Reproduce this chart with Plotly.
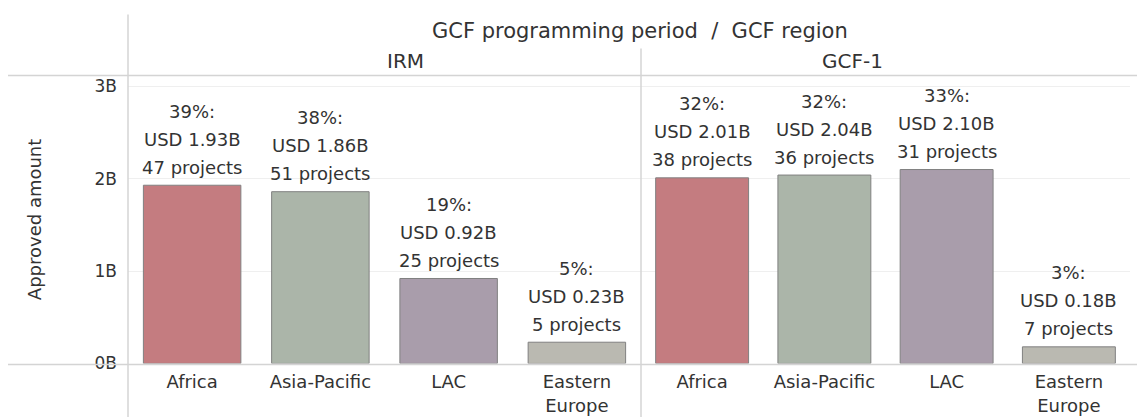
import plotly.graph_objects as go

# The page body shifts the figure 8px to the right; pixel coords below are
# given in window coordinates and converted with fx / fy.
OFFX = 8
W, H = 1145 - OFFX, 419

regions = ["Africa", "Asia-Pacific", "LAC", "Eastern Europe"]
region_ticks = ["Africa", "Asia-Pacific", "LAC", "Eastern<br>Europe"]
colors = ["#c47c80", "#abb5a9", "#a99dab", "#bab9b1"]

irm_amounts = [1.93, 1.86, 0.92, 0.23]
irm_shares = ["39%", "38%", "19%", "5%"]
irm_projects = [47, 51, 25, 5]

gcf1_amounts = [2.01, 2.04, 2.10, 0.18]
gcf1_shares = ["32%", "32%", "33%", "3%"]
gcf1_projects = [38, 36, 31, 7]

y_ticks = [0, 1, 2, 3]
y_ticktext = ["0B", "1B", "2B", "3B"]

FONT = "DejaVu Sans"
TXT = "#333333"
LINE = "#d4d4d4"


def fx(p):
    return (p - OFFX) / W


def py(t):
    # empirical correction of vertical placement
    return (t - 7.6) / 0.976


def fy(t):
    return 1 - py(t) / H


fig = go.Figure()

panels = [
    ("IRM", irm_amounts, irm_shares, irm_projects, "x", "y", 128, 641),
    ("GCF-1", gcf1_amounts, gcf1_shares, gcf1_projects, "x2", "y2", 641, 1130),
]

annotations = []
for name, amts, shares, projs, xa, ya, x0, x1 in panels:
    fig.add_trace(go.Bar(
        x=list(range(len(regions))), y=amts, width=0.76,
        marker=dict(color=colors, line=dict(color="#808080", width=1)),
        xaxis=xa, yaxis=ya, showlegend=False,
        hovertext=regions, hoverinfo="text+y",
    ))
    for i, (a, s, p) in enumerate(zip(amts, shares, projs)):
        for line, shift in ((f"{p} projects", 18), (f"USD {a:.2f}B", 46), (f"{s}:", 74)):
            annotations.append(dict(
                x=i, y=a, xref=xa, yref=ya, text=line, showarrow=False,
                yanchor="middle", yshift=shift,
                font=dict(family=FONT, size=18, color=TXT),
            ))
    annotations.append(dict(
        x=(fx(x0) + fx(x1)) / 2, y=fy(61), xref="paper", yref="paper",
        text=name, showarrow=False, yanchor="middle",
        font=dict(family=FONT, size=20, color=TXT),
    ))

annotations.append(dict(
    x=fx(640), y=fy(31), xref="paper", yref="paper",
    text="GCF programming period  /  GCF region", showarrow=False,
    yanchor="middle", font=dict(family=FONT, size=21, color=TXT),
))

y0_px, y3_px, ytop_px = py(363), py(86), py(75)
per_b = (y0_px - y3_px) / 3
ydom = [1 - y0_px / H, 1 - ytop_px / H]
yr = [0, (y0_px - ytop_px) / per_b]

common_x = dict(
    tickmode="array", tickvals=list(range(4)), ticktext=region_ticks,
    range=[-0.5, 3.5], showgrid=False, zeroline=False, showline=False,
    ticks="", ticklabelstandoff=6,
    tickfont=dict(family=FONT, size=18, color=TXT), fixedrange=True,
)
common_y = dict(
    range=yr, domain=ydom, tickvals=y_ticks, ticktext=y_ticktext,
    showgrid=True, gridcolor="#efefef", gridwidth=1, zeroline=False,
    showline=False, fixedrange=True,
)

fig.update_layout(
    width=W, height=H,
    margin=dict(l=0, r=0, t=0, b=0),
    paper_bgcolor="white", plot_bgcolor="white",
    font=dict(family=FONT, color=TXT),
    xaxis=dict(domain=[fx(128), fx(641)], anchor="y", **common_x),
    xaxis2=dict(domain=[fx(641), fx(1130)], anchor="y2", **common_x),
    yaxis=dict(anchor="x", tickfont=dict(family=FONT, size=17, color=TXT),
               ticklabelstandoff=10,
               title=dict(text="Approved amount", standoff=48,
                          font=dict(family=FONT, size=18, color=TXT)),
               **common_y),
    yaxis2=dict(anchor="x2", showticklabels=False, **common_y),
    annotations=annotations,
    shapes=[
        dict(type="line", xref="paper", yref="paper", x0=0, x1=1, y0=fy(75), y1=fy(75),
             line=dict(color=LINE, width=1.5)),
        dict(type="line", xref="paper", yref="paper", x0=0, x1=1, y0=fy(364), y1=fy(364),
             line=dict(color=LINE, width=1.5)),
        dict(type="line", xref="paper", yref="paper", x0=fx(128), x1=fx(128), y0=fy(14), y1=0,
             line=dict(color=LINE, width=1.5)),
        dict(type="line", xref="paper", yref="paper", x0=fx(641), x1=fx(641), y0=fy(48), y1=0,
             line=dict(color=LINE, width=1.5)),
    ],
)

fig.write_html("out.html")
